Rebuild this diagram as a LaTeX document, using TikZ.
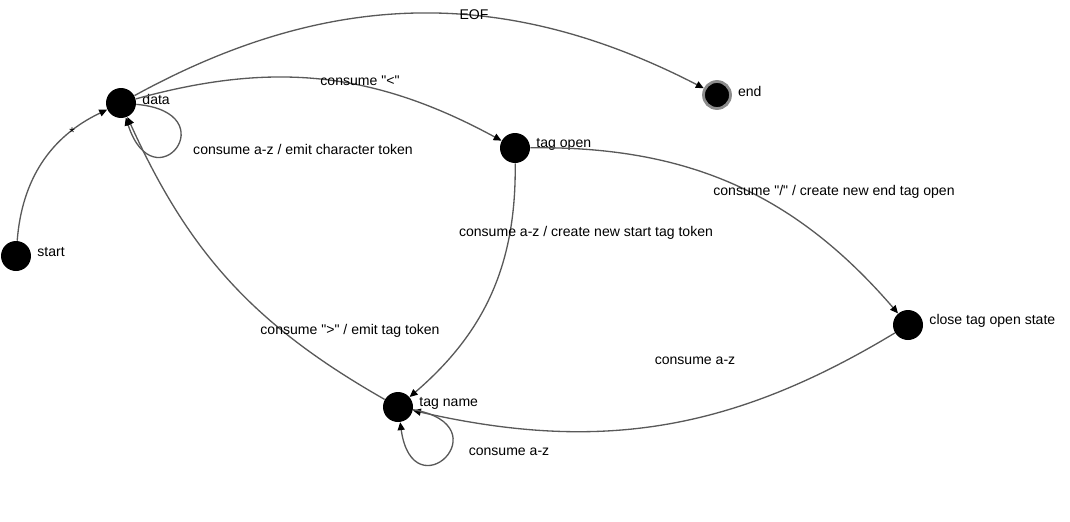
\documentclass[tikz,border=0pt]{standalone}
\usepackage{fontspec}
\setmainfont{Liberation Sans}
\usetikzlibrary{arrows.meta}

\begin{document}
\begin{tikzpicture}[x = 0.02cm, y = 0.02cm,
  every node/.style = {font = \fontsize{8}{9.6}\selectfont, inner sep = 1pt},
  state/.style = {circle, fill = black, minimum size = 0.6cm, inner sep = 0pt,
    label = {[label distance = 0.08cm, yshift = 0.08cm]right:#1}},
  final/.style = {state = #1, draw = black!45, line width = 1.6pt, minimum size = 0.54cm},
  edge/.style = {draw = black!65, line width = 0.75pt, -{Triangle[length = 4.5pt, width = 4pt, color = black]}}]

  \useasboundingbox (0, 0) rectangle (1070, -521);

  % states
  \node[state = start] (start) at (16, -256) {};
  \node[state = data] (data) at (121, -103) {};
  \node[state = tag open] (tagopen) at (515, -148) {};
  \node[final = end] (end) at (717, -95) {};
  \node[state = close tag open state] (closetag) at (908, -325) {};
  \node[state = tag name] (tagname) at (398, -407) {};

  % transitions
  \draw[edge] (start) to[bend left = 30] (data);
  \draw[edge] (data) to[bend left = 28] (end);
  \draw[edge] (data) to[bend left = 22] (tagopen);
  \draw[edge] (data) to[out = -5, in = -72, min distance = 1.85cm] (data);
  \draw[edge] (tagopen) to[bend left = 25] (closetag);
  \draw[edge] (tagopen) to[bend left = 25] (tagname);
  \draw[edge] (tagname) to[bend left = 18] (data);
  \draw[edge] (closetag) to[bend left = 22] (tagname);
  \draw[edge] (tagname) to[out = -10, in = -82, min distance = 1.85cm] (tagname);

  % transition labels
  \node (lstar) at (72, -133) {*};
  \node (leof) at (474, -15) {EOF};
  \node (llt) at (360, -81) {consume \textquotedbl<\textquotedbl};
  \node (lchar) at (303, -149) {consume a-z / emit character token};
  \node (lslash) at (834, -192) {consume \textquotedbl/\textquotedbl{} / create new end tag open};
  \node (lstarttag) at (586, -233) {consume a-z / create new start tag token};
  \node (lgt) at (350, -331) {consume \textquotedbl>\textquotedbl{} / emit tag token};
  \node (lclose) at (695, -361) {consume a-z};
  \node (lname) at (509, -452) {consume a-z};

\end{tikzpicture}
\end{document}
